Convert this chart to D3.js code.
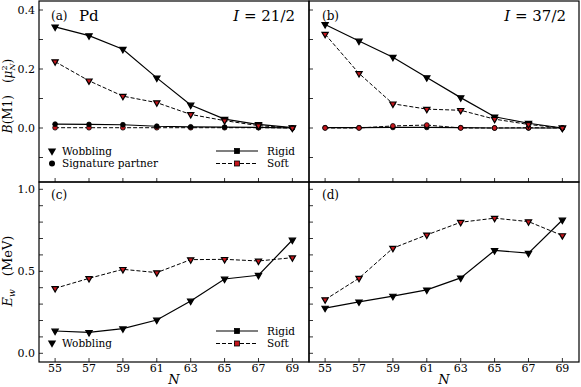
<!DOCTYPE html>
<html>
<head>
<meta charset="utf-8">
<script src="https://cdn.jsdelivr.net/npm/d3@7"></script>
<style>
  body { margin: 0; background: #fff; }
  svg text { font-family: "DejaVu Serif", serif; fill: #000; }
</style>
</head>
<body>
<div id="chart"></div>
<script>
// neutron numbers
const N = [55, 57, 59, 61, 63, 65, 67, 69];
const xTicks = N;

// (a) B(M1), I = 21/2
const bm1A_rigidWob = [0.343, 0.313, 0.267, 0.170, 0.078, 0.030, 0.012, 0.001];
const bm1A_softWob  = [0.225, 0.160, 0.108, 0.086, 0.046, 0.025, 0.008, 0.000];
const bm1A_rigidSig = [0.013, 0.012, 0.011, 0.006, 0.004, 0.003, 0.002, 0.000];
const bm1A_softSig  = [0.001, 0.001, 0.001, 0.001, 0.001, 0.001, 0.001, 0.000];

// (b) B(M1), I = 37/2
const bm1B_rigidWob = [0.351, 0.295, 0.240, 0.171, 0.103, 0.038, 0.016, 0.000];
const bm1B_softWob  = [0.318, 0.185, 0.082, 0.064, 0.060, 0.030, 0.012, 0.000];
const bm1B_rigidSig = [0.001, 0.001, 0.002, 0.002, 0.001, 0.000, 0.000, 0.000];
const bm1B_softSig  = [0.000, 0.000, 0.007, 0.010, 0.000, 0.000, 0.001, 0.000];

// (c), (d) wobbling energies (MeV)
const ewC_rigid = [0.136, 0.128, 0.150, 0.203, 0.319, 0.453, 0.476, 0.691];
const ewC_soft  = [0.396, 0.457, 0.512, 0.492, 0.571, 0.573, 0.563, 0.583];
const ewD_rigid = [0.276, 0.314, 0.349, 0.387, 0.460, 0.627, 0.611, 0.813];
const ewD_soft  = [0.327, 0.458, 0.641, 0.722, 0.799, 0.824, 0.803, 0.718];

const bm1Ticks = [-0.1, 0, 0.1, 0.2, 0.3, 0.4];
const bm1Labels = [0, 0.2, 0.4];
const ewTicks = d3.range(0, 11).map(i => i / 10);
const ewLabels = [0, 0.5, 1.0];

const RED = '#c4161c';
const width = 581, height = 387;

const svg = d3.select('#chart').append('svg')
  .attr('width', width)
  .attr('height', height);

const edgeL = 39, edgeM = 309, edgeR = 579;
const edgeT = 1, edgeS = 182, edgeB = 362;

const xLeft = d3.scaleLinear().domain([54.05, 69.98]).range([edgeL, edgeM]);
const xRight = d3.scaleLinear().domain([54.05, 69.98]).range([edgeM, edgeR]);
const yTop = d3.scaleLinear().domain([0, 0.4]).range([128, 10]);
const yBot = d3.scaleLinear().domain([0, 1]).range([353.3, 189.3]);

const triangle = d3.symbol().type(d3.symbolTriangle).size(17);
const triangleBig = d3.symbol().type(d3.symbolTriangle).size(30);

function drawPanel(x, y, yTickVals, yLabelVals, fmt, showYLabels, isBottom) {
  const [x0, x1] = x.range();
  const g = svg.append('g');
  const yMax = isBottom ? edgeB : edgeS;
  const yMin = isBottom ? edgeS : edgeT;

  // y ticks (inward)
  g.selectAll('.yt').data(yTickVals).enter().append('line')
    .attr('x1', x0).attr('x2', x0 + 4)
    .attr('y1', d => y(d)).attr('y2', d => y(d))
    .attr('stroke', '#000').attr('stroke-width', 0.8);
  if (showYLabels) {
    g.selectAll('.yl').data(yLabelVals).enter().append('text')
      .attr('x', x0 - 4).attr('y', d => y(d)).attr('dy', '0.35em')
      .attr('text-anchor', 'end').attr('font-size', 11)
      .text(fmt);
  }
  // x ticks (inward)
  g.selectAll('.xt').data(xTicks).enter().append('line')
    .attr('x1', d => x(d)).attr('x2', d => x(d))
    .attr('y1', yMax).attr('y2', yMax - 4)
    .attr('stroke', '#000').attr('stroke-width', 0.8);
  if (isBottom) {
    g.selectAll('.xl').data(xTicks).enter().append('text')
      .attr('x', d => x(d)).attr('y', yMax + 10)
      .attr('text-anchor', 'middle').attr('font-size', 11)
      .text(d => d);
  }
  // frame
  g.append('rect')
    .attr('x', x0).attr('y', yMin)
    .attr('width', x1 - x0).attr('height', yMax - yMin)
    .attr('fill', 'none').attr('stroke', '#000').attr('stroke-width', 1.2);
  return g;
}

function series(g, x, y, vals, dashed, marker) {
  const line = d3.line().x((d, i) => x(N[i])).y(d => y(d));
  g.append('path')
    .attr('d', line(vals))
    .attr('fill', 'none').attr('stroke', '#000')
    .attr('stroke-width', dashed ? 1.0 : 1.2)
    .attr('stroke-dasharray', dashed ? '4,2' : null);
  const fill = dashed ? RED : '#000';
  if (marker === 'tri') {
    g.selectAll(null).data(vals).enter().append('path')
      .attr('d', triangle)
      .attr('transform', (d, i) => `translate(${x(N[i])},${y(d)}) rotate(180)`)
      .attr('fill', fill).attr('stroke', '#000').attr('stroke-width', 1.2)
      .attr('stroke-linejoin', 'miter');
  } else {
    g.selectAll(null).data(vals).enter().append('circle')
      .attr('cx', (d, i) => x(N[i])).attr('cy', d => y(d)).attr('r', 2.4)
      .attr('fill', fill).attr('stroke', '#000').attr('stroke-width', 0.8);
  }
}

const fmt1 = d3.format('.1f');
const gA = drawPanel(xLeft, yTop, bm1Ticks, bm1Labels, fmt1, true, false);
const gB = drawPanel(xRight, yTop, bm1Ticks, bm1Labels, fmt1, false, false);
const gC = drawPanel(xLeft, yBot, ewTicks, ewLabels, fmt1, true, true);
const gD = drawPanel(xRight, yBot, ewTicks, ewLabels, fmt1, false, true);

series(gA, xLeft, yTop, bm1A_softSig, true, 'circle');
series(gA, xLeft, yTop, bm1A_rigidSig, false, 'circle');
series(gA, xLeft, yTop, bm1A_rigidWob, false, 'tri');
series(gA, xLeft, yTop, bm1A_softWob, true, 'tri');

series(gB, xRight, yTop, bm1B_rigidSig, false, 'circle');
series(gB, xRight, yTop, bm1B_softSig, true, 'circle');
series(gB, xRight, yTop, bm1B_rigidWob, false, 'tri');
series(gB, xRight, yTop, bm1B_softWob, true, 'tri');

series(gC, xLeft, yBot, ewC_rigid, false, 'tri');
series(gC, xLeft, yBot, ewC_soft, true, 'tri');
series(gD, xRight, yBot, ewD_rigid, false, 'tri');
series(gD, xRight, yBot, ewD_soft, true, 'tri');

// panel captions
function caption(xp, yp, label) {
  svg.append('text').attr('x', xp).attr('y', yp).attr('font-size', 12).text(label);
}
caption(51, 20, '(a)');
caption(322, 20, '(b)');
caption(51, 199, '(c)');
caption(322, 199, '(d)');
svg.append('text').attr('x', 79).attr('y', 21).attr('font-size', 15).text('Pd');

function spinLabel(xp, val) {
  const t = svg.append('text').attr('x', xp).attr('y', 21)
    .attr('text-anchor', 'end').attr('font-size', 15);
  t.append('tspan').attr('font-style', 'italic').text('I');
  t.append('tspan').text(' = ' + val);
}
spinLabel(295, '21/2');
spinLabel(566, '37/2');

// legends
function legendMarker(xp, yp, text, marker) {
  if (marker === 'tri') {
    svg.append('path').attr('d', triangleBig)
      .attr('transform', `translate(${xp},${yp}) rotate(180)`)
      .attr('fill', '#000');
  } else {
    svg.append('circle').attr('cx', xp).attr('cy', yp).attr('r', 3).attr('fill', '#000');
  }
  svg.append('text').attr('x', xp + 10).attr('y', yp).attr('dy', '0.35em')
    .attr('font-size', 10.5).text(text);
}
function legendLine(xp, yp, text, dashed) {
  svg.append('line').attr('x1', xp).attr('x2', xp + 42).attr('y1', yp).attr('y2', yp)
    .attr('stroke', '#000').attr('stroke-width', dashed ? 1.0 : 1.2)
    .attr('stroke-dasharray', dashed ? '4,2' : null);
  svg.append('rect').attr('x', xp + 18.5).attr('y', yp - 2.5).attr('width', 5).attr('height', 5)
    .attr('fill', dashed ? RED : '#000').attr('stroke', '#000').attr('stroke-width', 0.8);
  svg.append('text').attr('x', xp + 51).attr('y', yp).attr('dy', '0.35em')
    .attr('font-size', 10.5).text(text);
}
legendMarker(52, 151, 'Wobbling', 'tri');
legendMarker(52, 163.5, 'Signature partner', 'circle');
legendLine(216, 151, 'Rigid', false);
legendLine(216, 163.5, 'Soft', true);
legendMarker(52, 343, 'Wobbling', 'tri');
legendLine(216, 331, 'Rigid', false);
legendLine(216, 343.5, 'Soft', true);

// axis titles
const yl1 = svg.append('text').attr('transform', 'translate(12,96) rotate(-90)')
  .attr('text-anchor', 'middle').attr('font-size', 12);
yl1.append('tspan').attr('font-style', 'italic').text('B');
yl1.append('tspan').text('(M1)\u2003(');
yl1.append('tspan').attr('font-style', 'italic').text('μ');
yl1.append('tspan').attr('font-size', 8).attr('dy', -5).text('2');
yl1.append('tspan').attr('font-size', 8).attr('font-style', 'italic').attr('dy', 8).attr('dx', -5).text('N');
yl1.append('tspan').attr('dy', -3).text(')');

const yl2 = svg.append('text').attr('transform', 'translate(12,271) rotate(-90)')
  .attr('text-anchor', 'middle').attr('font-size', 13);
yl2.append('tspan').attr('font-style', 'italic').text('E');
yl2.append('tspan').attr('font-style', 'italic').attr('font-size', 9).attr('dy', 3).text('w');
yl2.append('tspan').attr('dy', -3).text('\u2003(MeV)');

svg.append('text').attr('x', 174).attr('y', 384).attr('text-anchor', 'middle')
  .attr('font-size', 13).attr('font-style', 'italic').text('N');
svg.append('text').attr('x', 444).attr('y', 384).attr('text-anchor', 'middle')
  .attr('font-size', 13).attr('font-style', 'italic').text('N');
</script>
</body>
</html>
